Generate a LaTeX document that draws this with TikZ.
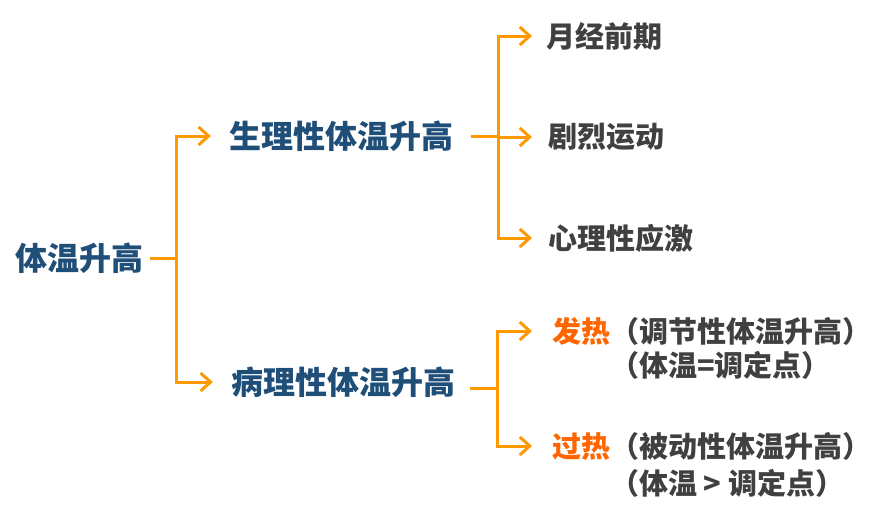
\documentclass[tikz,border=0pt]{standalone}
\usepackage{fontspec}
\setmainfont{Noto Sans CJK SC}
\usetikzlibrary{arrows.meta,positioning}
\definecolor{titleblue}{RGB}{31,78,121}
\definecolor{textgray}{RGB}{64,64,64}
\definecolor{linkorange}{RGB}{255,153,0}
\definecolor{hotorange}{RGB}{255,102,0}
\begin{document}
\begin{tikzpicture}[x=1pt,y=-1pt,
  head/.style={font=\bfseries\fontsize{32}{37}\selectfont,text=titleblue,inner sep=0pt},
  leaf/.style={font=\bfseries\fontsize{29}{34}\selectfont,text=textgray,inner sep=0pt,anchor=west},
  link/.style={draw=linkorange,line width=3pt},
  arr/.style={link,-{Straight Barb[length=10pt,width=18pt]}}]
\useasboundingbox (0,0) rectangle (894,509);
% headings
\node[head] (root) at (80,258) {体温升高};
\node[head] (phys) at (341,136) {生理性体温升高};
\node[head] (path) at (343,382) {病理性体温升高};
% leaves
\node[leaf] (mens) at (546,36) {月经前期};
\node[leaf] (sport) at (548,137) {剧烈运动};
\node[leaf] (stress) at (548,238) {心理性应激};
\node[leaf] (fever) at (552,331) {\textcolor{hotorange}{发热}（调节性体温升高）};
\node[leaf] (fevnote) at (610,365) {（体温=调定点）};
\node[leaf] (heat) at (552,446) {\textcolor{hotorange}{过热}（被动性体温升高）};
\node[leaf] (heatnote) at (610,483) {（体温 > 调定点）};
% connectors
\draw[link] ([xshift=6pt]root.east) -- ++(26,0) coordinate (rootfork);
\draw[arr] (rootfork) |- ([xshift=-18pt]phys.west);
\draw[arr] (rootfork) |- ([xshift=-18pt]path.west);
\draw[link] ([xshift=18pt]phys.east) -- ++(27,0) coordinate (physfork);
\draw[arr] (physfork) |- ([xshift=-14pt]mens.west);
\draw[arr] (physfork) |- ([xshift=-16pt]sport.west);
\draw[arr] (physfork) |- ([xshift=-16pt]stress.west);
\draw[link] ([xshift=15pt,yshift=-6pt]path.east) -- ++(27,0) coordinate (pathfork);
\draw[arr] (pathfork) |- ([xshift=-20pt]fever.west);
\draw[arr] (pathfork) |- ([xshift=-20pt]heat.west);
\end{tikzpicture}
\end{document}
